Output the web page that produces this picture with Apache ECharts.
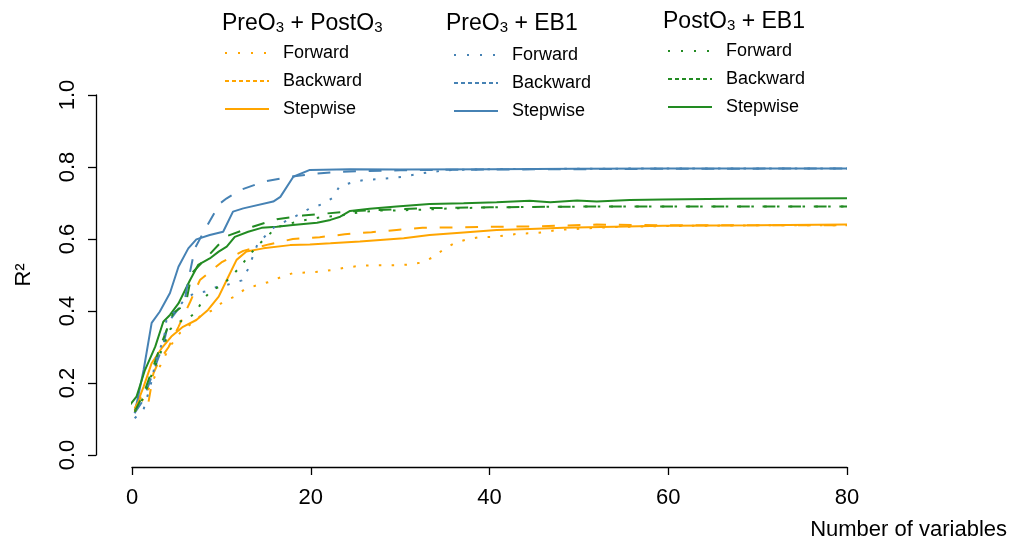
<!DOCTYPE html>
<html>
<head>
<meta charset="utf-8">
<script src="https://cdn.jsdelivr.net/npm/echarts@6/dist/echarts.min.js"></script>
<style>
html,body{margin:0;padding:0;background:#fff;}
#chart{width:1011px;height:546px;}
</style>
</head>
<body>
<div id="chart"></div>
<script>
// ---- Data (x = number of variables, y = R^2) ----
const xTicks = [0, 20, 40, 60, 80];
const yTicks = [0.0, 0.2, 0.4, 0.6, 0.8, 1.0];

// PreO3 + PostO3 (orange)
const ppForwardX = [0.3,1.3,2.2,3.2,4.2,5.4,6.7,7.8,9.1,10.2,11.5,12.6,14,15.4,16.75,18,19.5,21,22.4,23.8,25.3,26.7,28.1,29.6,31,32.5,33.8,34.9,36.2,37.5,38.9,40.4,41.8,43.3,44.7,46.1,47.6,49,52,55,60,70,80];
const ppForwardY = [0.12,0.157,0.2,0.25,0.3,0.34,0.366,0.389,0.403,0.426,0.44,0.46,0.472,0.481,0.495,0.505,0.507,0.509,0.514,0.52,0.525,0.527,0.527,0.527,0.529,0.535,0.551,0.572,0.59,0.599,0.605,0.606,0.61,0.615,0.616,0.619,0.625,0.627,0.631,0.634,0.636,0.638,0.638];
const ppBackwardX = [0.3,1.0,1.8,2.4,3.0,4.1,5.2,6.5,7.6,10,12.45,15.3,18,21,23.8,26.8,29.6,32.5,35.4,40,45,52,60,70,80];
const ppBackwardY = [0.13,0.16,0.14,0.227,0.26,0.3,0.356,0.425,0.486,0.535,0.567,0.585,0.6,0.605,0.613,0.619,0.625,0.631,0.632,0.634,0.635,0.64,0.638,0.638,0.638];
const ppStepwiseX = [0.3,1.3,2.2,3.3,4.4,5.7,7.2,8.5,9.7,10.6,11.7,12.8,14.7,17.7,19.9,22.2,25.5,30.4,33.3,37.1,40.8,44.5,48.3,53.9,59.4,70,80];
const ppStepwiseY = [0.125,0.19,0.255,0.296,0.329,0.356,0.375,0.403,0.44,0.486,0.542,0.565,0.574,0.583,0.585,0.588,0.593,0.602,0.611,0.618,0.625,0.628,0.631,0.634,0.637,0.638,0.64];

// PreO3 + EB1 (blue)
const peForwardX = [0.3,1.3,2.1,2.7,3.6,3.9,4.8,5.7,6.9,8.2,9.5,11,12.3,13,14,15,16,17.4,18.6,19.9,21.2,22.5,23.2,24.6,26,27.4,28.9,30.3,31.7,33.1,34.5,35.9,40,50,60,70,80];
const peForwardY = [0.102,0.127,0.196,0.266,0.326,0.384,0.398,0.426,0.449,0.454,0.467,0.475,0.485,0.517,0.583,0.611,0.635,0.652,0.667,0.685,0.696,0.715,0.746,0.757,0.764,0.766,0.769,0.773,0.779,0.785,0.789,0.792,0.794,0.795,0.796,0.796,0.796];
const peBackwardX = [0.3,1.2,2.2,2.8,3.5,4.1,5.9,6.3,7.05,8.4,9.85,10.6,12.1,14.7,17.7,20.7,23.6,30,40,60,80];
const peBackwardY = [0.117,0.15,0.218,0.26,0.306,0.37,0.43,0.486,0.575,0.637,0.699,0.713,0.736,0.759,0.773,0.782,0.787,0.791,0.793,0.795,0.796];
const peStepwiseX = [0.3,1.3,2.2,3.1,4.25,5.2,6.3,7.2,8.7,10.2,11.3,12.45,15.8,16.6,18.05,19.9,24.4,30,40,50,60,70,80];
const peStepwiseY = [0.116,0.236,0.367,0.398,0.45,0.523,0.574,0.599,0.611,0.62,0.676,0.685,0.704,0.717,0.773,0.792,0.794,0.793,0.794,0.795,0.796,0.796,0.796];

// PostO3 + EB1 (green)
const oeForwardX = [0.3,1.3,2.3,3.3,4.3,5.2,6.1,7.2,7.9,8.9,10,11.2,12.2,13.1,14.1,15.1,16.1,17.4,18.8,20.3,21.5,23.2,24.6,26.1,27.6,28.9,31.8,33.2,34.7,40,50,60,80];
const oeForwardY = [0.12,0.16,0.23,0.29,0.35,0.37,0.375,0.398,0.43,0.458,0.47,0.498,0.526,0.554,0.583,0.606,0.632,0.641,0.65,0.657,0.662,0.664,0.671,0.676,0.679,0.679,0.681,0.682,0.684,0.688,0.69,0.69,0.69];
const oeBackwardX = [0.3,1.3,2.3,3.3,4.4,4.6,5.5,6.1,6.7,8.7,10.6,13.5,16.2,19.1,21.8,25,30.5,33.5,40,50,60,80];
const oeBackwardY = [0.12,0.17,0.24,0.31,0.38,0.394,0.41,0.43,0.505,0.558,0.608,0.634,0.655,0.665,0.671,0.678,0.683,0.686,0.688,0.69,0.69,0.69];
const oeStepwiseX = [-0.6,0.5,1.45,2.6,3.5,4.25,5.2,6.5,7.4,8.7,9.7,10.6,11.5,13,14.5,16.2,18,20.7,22.2,23.3,24.4,26.6,29.6,33.3,37.1,40.8,44.5,46.8,49.8,52,55.7,59.4,66.9,80];
const oeStepwiseY = [0.127,0.162,0.236,0.301,0.37,0.389,0.421,0.486,0.528,0.546,0.565,0.579,0.606,0.62,0.631,0.634,0.639,0.645,0.653,0.662,0.678,0.684,0.69,0.697,0.699,0.702,0.706,0.702,0.707,0.704,0.708,0.71,0.712,0.713];

const methods = ['Forward', 'Backward', 'Stepwise'];
const groupTitles = [['PreO', '3', ' + PostO', '3'], ['PreO', '3', ' + EB1'], ['PostO', '3', ' + EB1']];

// ---- Styles ----
const FONT = "'Liberation Sans', Arial, Helvetica, sans-serif";
const colors = ['#FFA500', '#4682B4', '#228B22'];
const plotDash = { Forward: [2.5, 10.3], Backward: [12.8, 12.8], Stepwise: 'solid' };
const legendDash = { Forward: [2, 11], Backward: [4, 3], Stepwise: 'solid' };
const groupKeys = ['pp', 'pe', 'oe'];
const dataSets = {
  pp: [[ppForwardX, ppForwardY], [ppBackwardX, ppBackwardY], [ppStepwiseX, ppStepwiseY]],
  pe: [[peForwardX, peForwardY], [peBackwardX, peBackwardY], [peStepwiseX, peStepwiseY]],
  oe: [[oeForwardX, oeForwardY], [oeBackwardX, oeBackwardY], [oeStepwiseX, oeStepwiseY]]
};

const series = [];
const legends = [];
const legendLeft = [224, 453, 667];
const legendTop = [43, 45, 41];
groupKeys.forEach((g, gi) => {
  const names = [];
  methods.forEach((m, mi) => {
    const [xs, ys] = dataSets[g][mi];
    const name = g + ' ' + m;
    names.push({
      name: name,
      lineStyle: { type: legendDash[m], width: 2, color: colors[gi] },
      itemStyle: { color: 'rgba(0,0,0,0)', borderWidth: 0, opacity: 0 }
    });
    series.push({
      name: name,
      type: 'line',
      data: xs.map((x, i) => [x, ys[i]]),
      symbol: 'none',
      clip: false,
      smooth: false,
      lineStyle: { color: colors[gi], width: 2, type: plotDash[m] },
      itemStyle: { color: colors[gi] },
      emphasis: { disabled: true },
      z: 2 + (2 - mi)
    });
  });
  legends.push({
    data: names,
    orient: 'vertical',
    left: legendLeft[gi],
    top: legendTop[gi],
    padding: 0,
    itemWidth: 44,
    itemHeight: 14,
    itemGap: 8,
    selectedMode: false,
    formatter: (n) => n.split(' ')[1],
    textStyle: { fontFamily: FONT, fontSize: 18, color: '#000', lineHeight: 20, padding: [0, 0, 0, 9] }
  });
});

const titleLeft = [222, 446, 663];
const titleTop = [12, 12, 10];
const graphics = groupTitles.map((parts, gi) => {
  let txt = '';
  parts.forEach((p, i) => { txt += (i % 2 === 0 ? '{a|' : '{s|') + p + '}'; });
  return {
    type: 'text',
    left: titleLeft[gi],
    top: titleTop[gi],
    style: {
      text: txt,
      fill: '#000',
      rich: {
        a: { fontFamily: FONT, fontSize: 23, lineHeight: 26, verticalAlign: 'bottom', fill: '#000' },
        s: { fontFamily: FONT, fontSize: 15, lineHeight: 15, verticalAlign: 'bottom', fill: '#000' }
      }
    }
  };
});

const option = {
  animation: false,
  backgroundColor: '#fff',
  grid: { left: 132, right: 164, top: 95, bottom: 91, containLabel: false },
  xAxis: {
    type: 'value', min: xTicks[0], max: xTicks[xTicks.length - 1], interval: 20,
    offset: 12,
    name: 'Number of variables',
    nameLocation: 'end',
    nameGap: 160,
    nameTextStyle: { fontFamily: FONT, fontSize: 22, color: '#000', align: 'right', verticalAlign: 'top', padding: [52, 0, 0, 0] },
    axisLine: { show: true, onZero: false, lineStyle: { color: '#000', width: 1.3 } },
    axisTick: { show: true, length: 8, lineStyle: { color: '#000', width: 1.3 } },
    axisLabel: { fontFamily: FONT, fontSize: 22, color: '#000', margin: 20 },
    splitLine: { show: false }
  },
  yAxis: {
    type: 'value', min: yTicks[0], max: yTicks[yTicks.length - 1], interval: 0.2,
    offset: 36,
    name: 'R²',
    nameLocation: 'middle',
    nameRotate: 90,
    nameGap: 61,
    nameTextStyle: { fontFamily: FONT, fontSize: 22, color: '#000' },
    axisLine: { show: true, onZero: false, lineStyle: { color: '#000', width: 1.3 } },
    axisTick: { show: true, length: 8, lineStyle: { color: '#000', width: 1.3 } },
    axisLabel: { fontFamily: FONT, fontSize: 22, color: '#000', rotate: 90, margin: 17, formatter: (v) => v.toFixed(1) },
    splitLine: { show: false }
  },
  legend: legends,
  graphic: graphics,
  series: series
};

const chart = echarts.init(document.getElementById('chart'), null, { renderer: 'canvas' });
chart.setOption(option);
</script>
</body>
</html>
